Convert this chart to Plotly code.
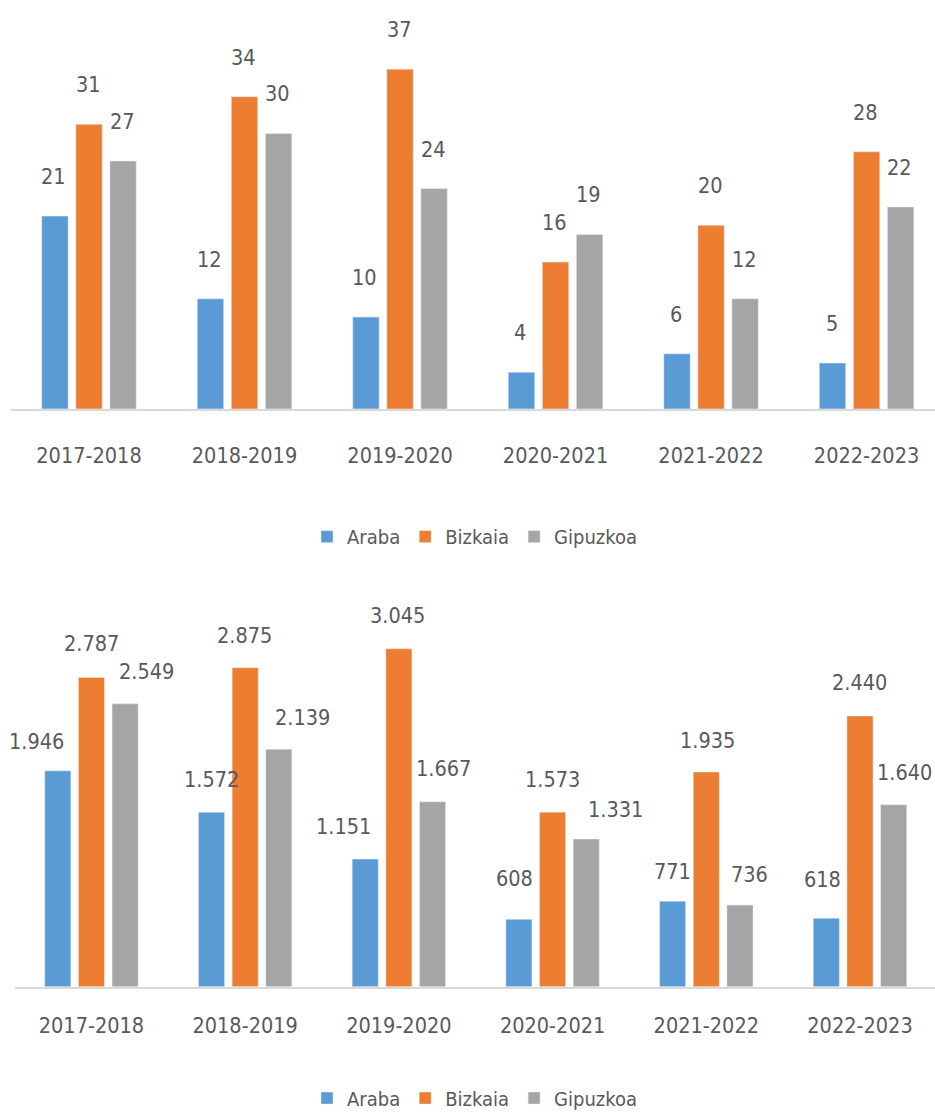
import plotly.graph_objects as go

# Academic years shown on both category axes
periods = ["2017-2018", "2018-2019", "2019-2020", "2020-2021", "2021-2022", "2022-2023"]
provinces = ["Araba", "Bizkaia", "Gipuzkoa"]

# Upper chart values
araba_top = [21, 12, 10, 4, 6, 5]
bizkaia_top = [31, 34, 37, 16, 20, 28]
gipuzkoa_top = [27, 30, 24, 19, 12, 22]

# Lower chart values
araba_bottom = [1946, 1572, 1151, 608, 771, 618]
bizkaia_bottom = [2787, 2875, 3045, 1573, 1935, 2440]
gipuzkoa_bottom = [2549, 2139, 1667, 1331, 736, 1640]

colors = ["#5b9bd5", "#ed7d31", "#a5a5a5"]
TEXT = "#595959"
FONT = "DejaVu Sans Condensed, Liberation Sans, sans-serif"
FS = 21.5
BARGAP = 0.343
BARGROUPGAP = 0.225

W, H = 935, 1118

# Pixel nudges for the lower chart's value labels (dx, dy), per province and period
bottom_label_dx = [
    [-21, 0, -22, -4, 0, -4],
    [0, -1, -1, 0, 1, 0],
    [21, 24, 11, 29, 10, 11],
]
bottom_label_dy = [
    [29, 33, 33, 41, 30, 39],
    [34, 32, 33, 33, 31, 33],
    [32, 32, 33, 30, 31, 32],
]


def fmt(v):
    return f"{v:,}".replace(",", ".")


fig = go.Figure()

top_series = [araba_top, bizkaia_top, gipuzkoa_top]
bottom_series = [araba_bottom, bizkaia_bottom, gipuzkoa_bottom]

for k, name in enumerate(provinces):
    fig.add_trace(go.Bar(
        x=periods, y=top_series[k], name=name, marker_color=colors[k],
        xaxis="x", yaxis="y", legend="legend", offsetgroup=str(k),
    ))
for k, name in enumerate(provinces):
    fig.add_trace(go.Bar(
        x=periods, y=bottom_series[k], name=name, marker_color=colors[k],
        xaxis="x2", yaxis="y2", legend="legend2", offsetgroup=str(k),
    ))

annotations = []
slot = (1 - BARGAP) / 3
for k in range(3):
    for i, period in enumerate(periods):
        annotations.append(dict(
            x=i + (k - 1) * slot, y=top_series[k][i], xref="x", yref="y",
            text=str(top_series[k][i]), showarrow=False,
            yanchor="middle", xanchor="center", yshift=39.5, xshift=-1,
            font=dict(family=FONT, size=FS, color=TEXT),
        ))
        annotations.append(dict(
            x=i + (k - 1) * slot, y=bottom_series[k][i], xref="x2", yref="y2",
            text=fmt(bottom_series[k][i]), showarrow=False,
            yanchor="middle", xanchor="center",
            yshift=bottom_label_dy[k][i], xshift=bottom_label_dx[k][i],
            font=dict(family=FONT, size=FS, color=TEXT),
        ))

axis_common = dict(
    type="category", showgrid=False, zeroline=False,
    showline=True, linecolor="#d9d9d9", linewidth=2,
    ticks="outside", tickcolor="rgba(0,0,0,0)",
    tickfont=dict(family=FONT, size=FS, color=TEXT),
)
yaxis_common = dict(showgrid=False, zeroline=False, showticklabels=False, showline=False)

fig.update_layout(
    width=W, height=H, autosize=False,
    margin=dict(l=0, r=0, t=0, b=0),
    paper_bgcolor="white", plot_bgcolor="white",
    barmode="group", bargap=BARGAP, bargroupgap=BARGROUPGAP,
    separators=",.",
    xaxis=dict(axis_common, domain=[11.25 / W, 1], range=[-0.5, 5.44], anchor="y", ticklen=26),
    yaxis=dict(yaxis_common, domain=[(H - 411.5) / H, 1], range=[0, 411.5 / 9.24], anchor="x"),
    xaxis2=dict(axis_common, domain=[14.6 / W, 1], range=[-0.5, 5.488], anchor="y2", ticklen=18),
    yaxis2=dict(yaxis_common, domain=[(H - 993) / H, (H - 600) / H],
                range=[0, (993 - 600) / 0.1117], anchor="x2"),
    legend=dict(
        orientation="h", x=475 / W, xanchor="center", y=(H - 540) / H, yanchor="middle",
        font=dict(family=FONT, size=20, color=TEXT), itemwidth=30,
        bgcolor="rgba(0,0,0,0)",
    ),
    legend2=dict(
        orientation="h", x=475 / W, xanchor="center", y=(H - 1105) / H, yanchor="middle",
        font=dict(family=FONT, size=20, color=TEXT), itemwidth=30,
        bgcolor="rgba(0,0,0,0)",
    ),
    annotations=annotations,
)

fig.write_html("out.html")
